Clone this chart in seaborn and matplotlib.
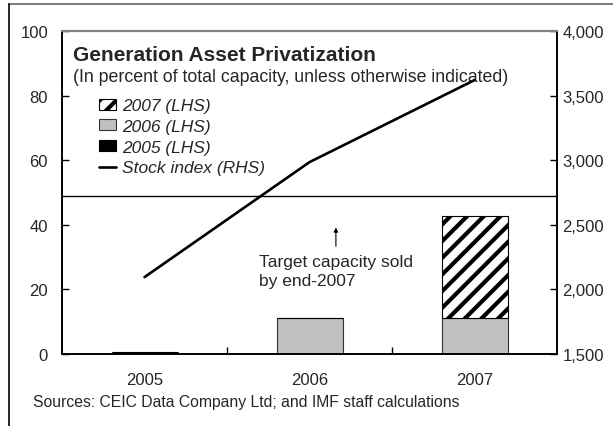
import matplotlib
matplotlib.use("Agg")
import matplotlib.pyplot as plt
from matplotlib.patches import Patch
from matplotlib.lines import Line2D
import seaborn as sns
import pandas as pd

years = ["2005", "2006", "2007"]
sold_2005 = [0.5, 0.0, 0.0]
sold_2006 = [0.0, 11.1, 11.0]
sold_2007 = [0.0, 0.0, 31.7]
stock_index = [2095, 2985, 3620]
target = 48.9

sns.set_style("white")
plt.rcParams["font.family"] = ["Liberation Sans", "DejaVu Sans"]
plt.rcParams["hatch.linewidth"] = 3.0

df = pd.DataFrame({"year": years, "s05": sold_2005, "s06": sold_2006,
                   "s07": sold_2007, "idx": stock_index})
df["base07"] = df["s05"] + df["s06"]

fig = plt.figure(figsize=(6.13, 4.27), dpi=100)
ax = fig.add_axes([62 / 613, 72 / 427, 495 / 613, 323 / 427])

sns.barplot(data=df, x="year", y="s05", color="black", width=0.4,
            saturation=1, edgecolor="#555555", linewidth=0.5, ax=ax)
sns.barplot(data=df, x="year", y="s06", color="#c0c0c0", width=0.4,
            saturation=1, edgecolor="#333333", linewidth=0.8, ax=ax)
sns.barplot(data=df, x="year", y="s07", bottom=df["base07"], color="white",
            width=0.4, saturation=1, edgecolor="black", linewidth=0.8,
            hatch="//", ax=ax)
ax.axhline(target, color="black", lw=1)

ax.set_ylim(0, 100)
ax.set_xlim(-0.5, 2.5)
ax.set_yticks([0, 20, 40, 60, 80, 100])
ax.set_xlabel("")
ax.set_ylabel("")
ax.set_xticks([0.5, 1.5], minor=True)
ax.tick_params(axis="x", which="major", length=0, labelsize=12, pad=13)
ax.tick_params(axis="x", which="minor", direction="in", length=5, width=1,
               color="black", bottom=True)
ax.tick_params(axis="y", direction="in", length=5, width=1, labelsize=12,
               color="black", left=True, pad=10)

ax2 = ax.twinx()
sns.pointplot(data=df, x="year", y="idx", color="black", markers="",
              linestyles="-", ax=ax2)
for ln in ax2.lines:
    ln.set_linewidth(1.9)
ax2.set_ylim(1500, 4000)
ax2.set_xlim(-0.5, 2.5)
ax2.set_yticks([1500, 2000, 2500, 3000, 3500, 4000])
ax2.set_yticklabels([f"{v:,}" for v in [1500, 2000, 2500, 3000, 3500, 4000]])
ax2.set_ylabel("")
ax2.tick_params(axis="y", direction="in", length=5, width=1, labelsize=12,
                color="black", right=True, pad=4)

for a in (ax, ax2):
    for side in ("left", "right", "bottom"):
        a.spines[side].set_color("black")
        a.spines[side].set_linewidth(1.2)
    a.spines["top"].set_color("#808080")
    a.spines["top"].set_linewidth(1.5)

ax.text(0.022, 0.91, "Generation Asset Privatization", transform=ax.transAxes,
        fontsize=15, fontweight="bold", va="baseline", ha="left")
ax.text(0.022, 0.86, "(In percent of total capacity, unless otherwise indicated)",
        transform=ax.transAxes, fontsize=12.8, va="center", ha="left")

handles = [
    Patch(facecolor="white", edgecolor="black", hatch="//", lw=0.8),
    Patch(facecolor="#c0c0c0", edgecolor="#333333", lw=0.8),
    Patch(facecolor="black", edgecolor="black", lw=0.8),
    Line2D([0], [0], color="black", lw=1.9),
]
labels = ["2007 (LHS)", "2006 (LHS)", "2005 (LHS)", "Stock index (RHS)"]
ax2.legend(handles, labels, loc="upper left", bbox_to_anchor=(0.075, 0.792),
           frameon=False, borderpad=0, borderaxespad=0, handlelength=1.0,
           handleheight=0.6, handletextpad=0.3, labelspacing=0.33,
           prop={"size": 12.5, "style": "italic"})

ax.annotate("", xy=(1.16, 40), xytext=(1.16, 32.5),
            arrowprops=dict(arrowstyle="-|>", color="black", lw=0.8,
                            mutation_scale=6))
ax.text(0.694, 25.7, "Target capacity sold\nby end-2007", fontsize=12.5,
        va="center", ha="left", linespacing=1.3)

fig.text(33 / 613, 1 - 403 / 427,
         "Sources: CEIC Data Company Ltd; and IMF staff calculations",
         fontsize=11.3, va="center", ha="left")

fig.add_artist(Line2D([9 / 613, 1], [1 - 5 / 427, 1 - 5 / 427], color="#808080",
                      lw=1.5, transform=fig.transFigure))
fig.add_artist(Line2D([9 / 613, 9 / 613], [0, 1 - 5 / 427], color="black",
                      lw=1.2, transform=fig.transFigure))

fig.savefig("out.png", dpi=100)
